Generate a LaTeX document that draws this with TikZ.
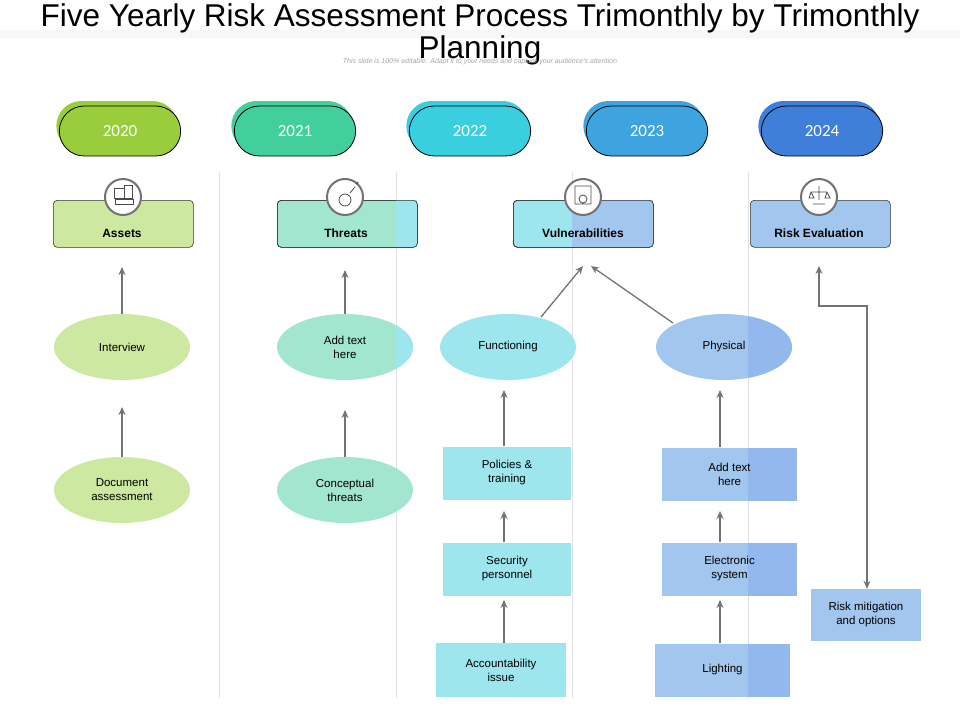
\documentclass[tikz,border=0pt]{standalone}
\usepackage{fontspec}
\setmainfont{Liberation Sans}
\newfontfamily\yearfont{Carlito}
\usetikzlibrary{shapes.geometric,shapes.misc,arrows.meta}
\definecolor{cA}{HTML}{9ACD3C}\definecolor{cB}{HTML}{43CF9C}\definecolor{cC}{HTML}{3ACFDE}
\definecolor{cD}{HTML}{3DA4DF}\definecolor{cE}{HTML}{3F7FDA}
\definecolor{lA}{HTML}{CDE8A0}\definecolor{lB}{HTML}{A3E6CF}\definecolor{lC}{HTML}{9EE6EE}
\definecolor{lD}{HTML}{A3C6EE}\definecolor{lE}{HTML}{92B8EE}
\tikzset{
 pill/.style={rounded rectangle,minimum width=128pt,minimum height=50pt,draw=black,line width=0.8pt,text=white,font=\yearfont\fontsize{17}{17}\selectfont},
 lab/.style={draw=black!80,line width=0.6pt,rounded corners=4pt,minimum width=140pt,minimum height=47pt,anchor=north west},
 labt/.style={font=\bfseries\fontsize{12}{12}\selectfont},
 ell/.style={ellipse,minimum width=136pt,minimum height=66pt,align=center,font=\fontsize{11.5}{14}\selectfont},
 box/.style={minimum width=128pt,minimum height=53pt,align=center,font=\fontsize{11.5}{14}\selectfont},
 arr/.style={-{Stealth[length=8pt,width=7pt]},draw=black!55,line width=1.3pt},
 icon/.style={circle,draw=black!55,line width=2pt,fill=white,minimum size=36pt},
 divl/.style={draw=black!12,line width=0.8pt}
}
\begin{document}
\begin{tikzpicture}[x=1pt,y=-1pt]
\useasboundingbox (0,0) rectangle (960,720);
\fill[black!3] (0,30) rectangle (960,38);
\node (t1) at (480,18) {\fontsize{31.5}{31.5}\selectfont Five Yearly Risk Assessment Process Trimonthly by Trimonthly};
\node (t2) at (480,50) {\fontsize{31.5}{31.5}\selectfont Planning};
\node[text=black!35] (sub) at (480,62) {\fontsize{7}{7}\selectfont\itshape This slide is 100\% editable. Adapt it to your needs and capture your audience's attention};
\foreach \x in {219,396,572,748}{\draw[divl] (\x,172) -- (\x,698);}
\foreach \x/\c/\t in {120/cA/2020,295/cB/2021,470/cC/2022,647/cD/2023,822/cE/2024}{
 \node[pill,draw=none,fill=\c] at (\x-3,126) {};
 \node[pill,fill=\c] (p\t) at (\x,131) {\t};
}
\node[lab,fill=lA] (assets) at (53,200) {};
\node[lab,fill=lB] (threats) at (277,200) {};
\fill[lC] (396.3,200.4) rectangle (416.6,246.6);
\node[lab,fill=lC] (vuln) at (513,200) {};
\fill[lD] (572.3,200.4) rectangle (652.6,246.6);
\node[lab,fill=lD] (riskev) at (750,200) {};
\node[lab,fill=none] at (277,200) {};
\node[lab,fill=none] at (513,200) {};
\node[labt] (tassets) at (122,233) {Assets};
\node[labt] (tthreats) at (346,233) {Threats};
\node[labt] (tvuln) at (583,233) {Vulnerabilities};
\node[labt] (triskev) at (819,233) {Risk Evaluation};
\foreach \x/\n in {123/ia,345/ib,583/ic,819/id}{\node[icon] (\n) at (\x,197) {};}
\draw[black!70,line width=0.8pt] (114,188) rectangle (124,198) (124,185) rectangle (132,198) (115,199) rectangle (133,204);
\draw[black!70,line width=0.8pt] (345,200) circle (6) (350,193) -- (355,187) (356,184)--(358,182);
\draw[black!70,line width=0.8pt] (575,186) rectangle (591,204) (583,199) circle (4);
\draw[black!70,line width=0.8pt] (811,192) -- (827,192) (819,186) -- (819,200) (813,204) -- (825,204) (811,192) -- (809,198) -- (814,198) -- (811,192) (827,192) -- (825,198) -- (830,198) -- (827,192);
\node[ell,fill=lA] (interview) at (122,347) {Interview};
\node[ell,fill=lA] (docass) at (122,490) {Document\\assessment};
\node[ell,fill=lB] (addtext1) at (345,347) {};
\begin{scope}\clip (345,347) ellipse (68 and 33); \fill[lC] (396,300) rectangle (420,400);\end{scope}
\node[ell] at (345,347) {Add text\\here};
\node[ell,fill=lB] (concept) at (345,490) {Conceptual\\threats};
\node[ell,fill=lC] (func) at (508,347) {Functioning};
\node[ell,fill=lD] (phys) at (724,347) {};
\begin{scope}\clip (724,347) ellipse (68 and 33); \fill[lE] (748,300) rectangle (800,400);\end{scope}
\node[ell] at (724,347) {Physical};
\node[box,fill=lC] (policies) at (507,473) {Policies \&\\training};
\node[box,fill=lC] (security) at (507,569) {Security\\personnel};
\node[box,fill=lC,minimum width=130pt,minimum height=54pt] (account) at (501,670) {Accountability\\issue};
\foreach \n/\y/\w/\x/\t in {addtext2/474/135/729.5/{Add text\\here},elec/569/135/729.5/{Electronic\\system},light/670/135/722.5/Lighting}{
 \node[box,fill=lD,minimum width=\w pt] (\n) at (\x,\y) {};
 \fill[lE] (748,\y-26.5) rectangle (\x+67.5,\y+26.5);
 \node[box,minimum width=\w pt] at (\x,\y) {\t};
}
\node[box,fill=lD,minimum width=110pt,minimum height=52pt] (mitig) at (866,615) {Risk mitigation\\and options};
\draw[arr] (interview.north) -- (122,267);
\draw[arr] (docass.north) -- (122,407);
\draw[arr] (addtext1.north) -- (345,270);
\draw[arr] (concept.north) -- (345,410);
\draw[arr] (541,317) -- (583,266);
\draw[arr] (673,323) -- (591,266);
\draw[arr] (504,0 |- policies.north) -- (504,390);
\draw[arr] (504,0 |- security.north) -- (504,511);
\draw[arr] (504,0 |- account.north) -- (504,600);
\draw[arr] (720,0 |- addtext2.north) -- (720,390);
\draw[arr] (720,0 |- elec.north) -- (720,511);
\draw[arr] (720,0 |- light.north) -- (720,600);
\draw[arr,{Stealth[length=8pt,width=7pt]}-{Stealth[length=8pt,width=7pt]}] (819,266) -- (819,306) -- (867,306) -- (867,0 |- mitig.north);
\end{tikzpicture}
\end{document}
